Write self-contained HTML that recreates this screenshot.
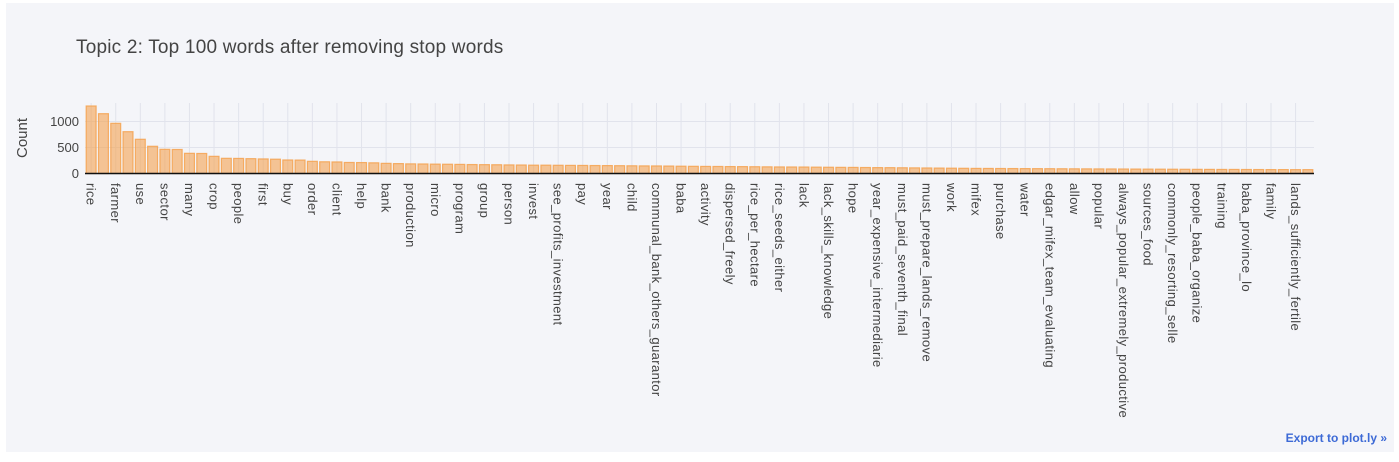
<!DOCTYPE html>
<html><head><meta charset="utf-8">
<style>
html,body{margin:0;padding:0;background:#fff;}
body{width:1399px;height:462px;overflow:hidden;font-family:"Liberation Sans",Arial,sans-serif;}
#panel{position:absolute;left:6px;top:3px;width:1388px;height:449px;background:#f4f5f9;}
#export{position:absolute;right:7px;bottom:7px;color:#3d6ad6;font-weight:bold;font-size:12px;}
svg{position:absolute;left:0;top:0;}
</style></head>
<body>
<div id="panel">
<div id="export">Export to plot.ly »</div>
</div>
<svg id="chart" width="1399" height="462"></svg>
<script>
const categories=["rice","rice2","farmer","farmer2","use","use2","sector","sector2","many","many2","crop","crop2","people","people2","first","first2","buy","buy2","order","order2","client","client2","help","help2","bank","bank2","production","production2","micro","micro2","program","program2","group","group2","person","person2","invest","invest2","see_profits_investment","spi2","pay","pay2","year","year2","child","child2","communal_bank_others_guarantor","cbog2","baba","baba2","activity","activity2","dispersed_freely","df2","rice_per_hectare","rph2","rice_seeds_either","rse2","lack","lack2","lack_skills_knowledge","lsk2","hope","hope2","year_expensive_intermediarie","yei2","must_paid_seventh_final","mpsf2","must_prepare_lands_remove","mplr2","work","work2","mifex","mifex2","purchase","purchase2","water","water2","edgar_mifex_team_evaluating","emte2","allow","allow2","popular","popular2","always_popular_extremely_productive","apep2","sources_food","sf2","commonly_resorting_selle","crs2","people_baba_organize","pbo2","training","training2","baba_province_lo","bpl2","family","family2","lands_sufficiently_fertile","lsf2"];
const counts=[1298,1150,965,804,658,523,465,462,388,385,330,292,290,285,280,275,260,258,234,225,222,212,210,205,195,190,185,183,180,178,
175,172,170,168,165,163,160,160,158,156,155,153,152,150,148,146,145,143,140,138,136,135,133,132,130,128,126,125,124,122,
120,118,117,115,113,112,110,108,106,104,102,100,98,97,96,95,94,93,92,91,90,89,88,87,86,85,84,83,82,81,80,79,78,78,77,76,75,75,74,74];
const yTicks=[0,500,1000];

const NS="http://www.w3.org/2000/svg";
const svg=document.getElementById('chart');
const X0=85,X1=1314,Y0=173.5,YT=103,YMAX=1356;
const bw=(X1-X0)/categories.length;
const xs=i=>X0+bw*(i+0.5);
const ys=v=>Y0-(v/YMAX)*(Y0-YT);
function mk(tag,attrs){const e=document.createElementNS(NS,tag);for(const k in attrs)e.setAttribute(k,attrs[k]);svg.appendChild(e);return e;}

let t=mk('text',{x:76,y:53,'font-size':19,fill:'#444','letter-spacing':0.2});
t.textContent='Topic 2: Top 100 words after removing stop words';



categories.forEach((c,i)=>{ if(i%2===0){
 const g=mk('line',{x1:xs(i),x2:xs(i),y1:YT,y2:Y0,stroke:'#e1e3ec','stroke-width':1});
 
 
}});
yTicks.forEach(v=>{
 const g=mk('line',{x1:X0,x2:X1,y1:ys(v),y2:ys(v),stroke:'#e1e3ec','stroke-width':1});
 
 
 const l=mk('text',{x:X0-6,y:ys(v)+4.5,'text-anchor':'end','font-size':13,fill:'#444'});
 l.textContent=String(v);
 
 
});
counts.forEach((v,i)=>{
 const r=mk('rect',{x:X0+bw*i+1.2,y:ys(v),width:bw-2.4,height:Y0-ys(v),fill:'rgba(244,162,80,0.6)',stroke:'rgba(244,162,80,0.85)','stroke-width':1.2});
 
 
});
mk('line',{x1:X0,x2:X1,y1:Y0,y2:Y0,stroke:'#111','stroke-width':1.6});
categories.forEach((c,i)=>{ if(i%2===0){
 const l=mk('text',{x:0,y:0,'font-size':13,fill:'#444','letter-spacing':0.4,transform:`translate(${xs(i)-4.5},183) rotate(90)`});
 l.textContent=c;
 
 
}});
const yt=mk('text',{x:0,y:0,'font-size':15,fill:'#444','text-anchor':'middle',transform:'translate(27,138) rotate(-90)'});
yt.textContent='Count';


</script>
</body></html>
